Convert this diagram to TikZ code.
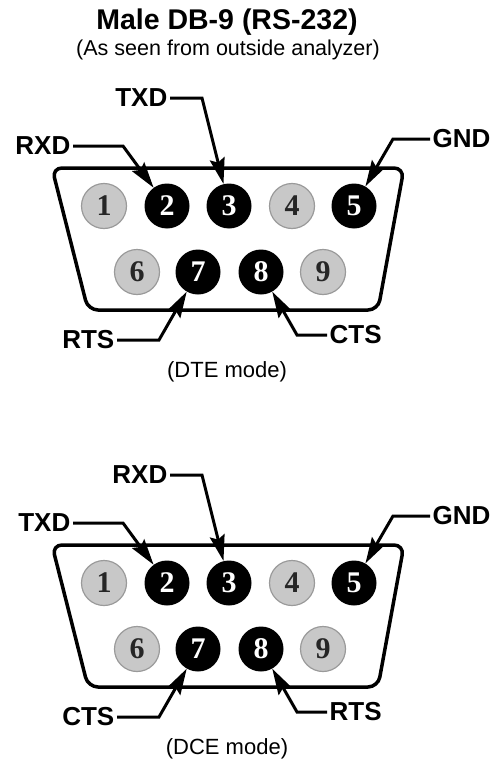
\documentclass[tikz,border=0pt]{standalone}
\usepackage{fontspec}
\setmainfont{Liberation Sans}
\newfontfamily\pinfont{Liberation Serif}
\usetikzlibrary{arrows.meta}
\definecolor{pingray}{HTML}{C8C8C8}
\definecolor{pinedge}{HTML}{9A9A9A}
\tikzset{
  pinon/.style={circle, fill=black, minimum size=45pt, inner sep=0pt, text=white,
    font=\pinfont\bfseries\fontsize{30}{30}\selectfont},
  pinoff/.style={pinon, fill=pingray, draw=pinedge, line width=1.2pt, text=black!85},
  sig/.style={line width=3pt, -{Stealth[length=26pt,width=15pt,inset=4pt]}},
  lbl/.style={font=\bfseries\fontsize{26}{26}\selectfont, inner sep=2.5pt},
  shell/.style={line width=3.5pt, rounded corners=10pt},
}
\begin{document}
\begin{tikzpicture}[x=1pt,y=-1pt]
\useasboundingbox (0,0) rectangle (492,768);
\node[font=\bfseries\fontsize{28.5}{28.5}\selectfont] (title) at (227,22) {Male DB-9 (RS-232)};
\node[font=\fontsize{21.5}{21.5}\selectfont] (sub) at (228,50) {(As seen from outside analyzer)};
% one connector per mode, second one shifted down
\foreach \yo/\ta/\tb/\tc/\td/\md in {0/RXD/TXD/RTS/CTS/DTE, 377/TXD/RXD/CTS/RTS/DCE}{
\begin{scope}[shift={(0,\yo)}]
\draw[shell] (228,168) -- (404,168) -- (378,310) -- (88,310) -- (52,168) -- cycle;
\foreach \n/\px/\py/\st in {1/104/206/pinoff, 2/167/206/pinon, 3/229/206/pinon,
    4/292/206/pinoff, 5/354/206/pinon, 6/137/272/pinoff, 7/198/272/pinon,
    8/261/272/pinon, 9/323/272/pinoff}
  \node[\st] (p\n) at (\px,\py) {\n};
\node[lbl, anchor=east] (la) at (73,146) {\ta};
\draw[sig] (la.east) -- ++(50,0) -- (p2);
\node[lbl, anchor=east] (lb) at (170,98) {\tb};
\draw[sig] (lb.east) -- ++(32,0) -- (p3);
\node[lbl, anchor=west] (lg) at (430,139) {GND};
\draw[sig] (lg.west) -- ++(-37,0) -- (p5);
\node[lbl, anchor=east] (lc) at (117,340) {\tc};
\draw[sig] (lc.east) -- ++(42,0) -- (p7);
\node[lbl, anchor=west] (ld) at (327,335) {\td};
\draw[sig] (ld.west) -- ++(-30,0) -- (p8);
\node[font=\fontsize{22}{22}\selectfont] (mode) at (227,372) {(\md\ mode)};
\end{scope}}
\end{tikzpicture}
\end{document}
